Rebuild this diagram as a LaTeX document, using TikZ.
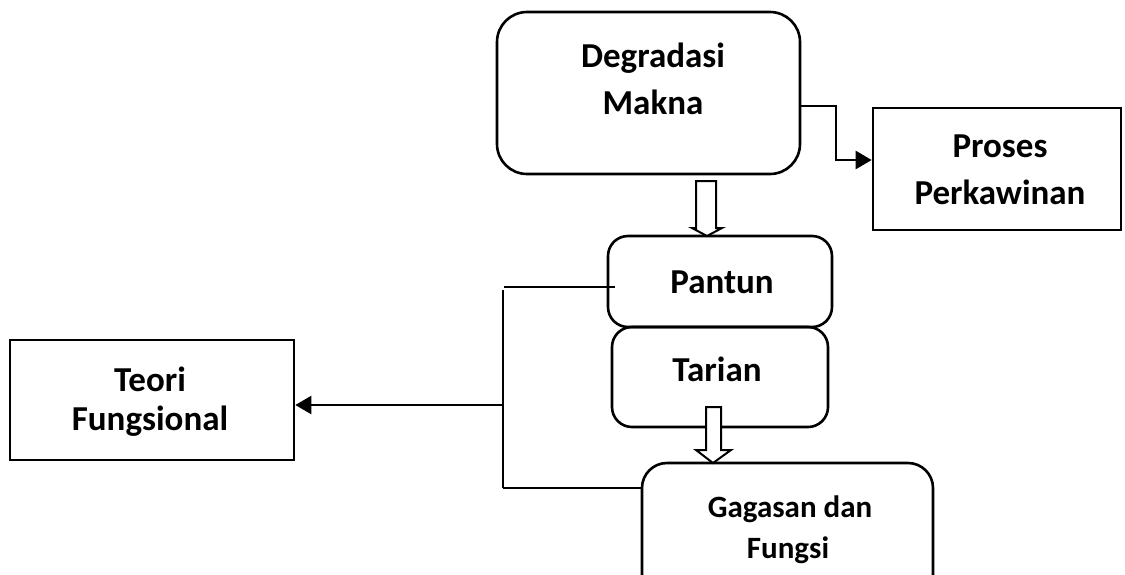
\documentclass[tikz,border=0pt]{standalone}
\usepackage{fontspec}
\setmainfont{Carlito}
\usetikzlibrary{arrows.meta}
\begin{document}
\begin{tikzpicture}[x=1pt,y=-1pt,
  line width=2.6pt,
  lbl/.style={font=\fontsize{35}{42}\selectfont\bfseries, inner sep=0pt, anchor=base},
  lbls/.style={font=\fontsize{31}{37}\selectfont\bfseries, inner sep=0pt, anchor=base},
  conn/.style={line width=2.3pt},
  tip/.style={-{Triangle[length=16pt,width=18pt]}},
  hollow/.style={line width=2pt, fill=white}]
\useasboundingbox (0,0) rectangle (1125,574);
\clip (0,0) rectangle (1125,574);
% boxes
\draw[rounded corners=30pt] (497,12) rectangle (800,174);
\coordinate (degE) at (800,106);
\node[draw, minimum width=248pt, minimum height=122pt, inner sep=0pt] (proses) at (997,169) {};
\draw[rounded corners=20pt] (608,236) rectangle (832,327);
\coordinate (pantunW) at (608,287);
\draw[rounded corners=20pt] (612,327) rectangle (828,427);
\draw[rounded corners=25pt] (642,463) rectangle (933,620);
\coordinate (gagW) at (642,488);
\node[draw, minimum width=284pt, minimum height=120pt, inner sep=0pt] (teori) at (152,400) {};
% texts
\node[lbl] (t1) at (653,67) {Degradasi};
\node[lbl] (t2) at (653,114) {Makna};
\node[lbl] (t3) at (1000,157) {Proses};
\node[lbl] (t4) at (1000,204) {Perkawinan};
\node[lbl] (t5) at (722,293) {Pantun};
\node[lbl] (t6) at (717,381) {Tarian};
\node[lbl] (t7) at (150,391) {Teori};
\node[lbl] (t8) at (150,430) {Fungsional};
\node[lbls] (t9) at (790,517) {Gagasan dan};
\node[lbls] (t10) at (788,558) {Fungsi};
% connectors
\coordinate (j1) at (836,106);
\coordinate (j2) at (836,160);
\draw[conn, tip] (degE) -- (j1) -- (j2) -- (proses.west |- j2);
\coordinate (bTop) at (504,287);
\coordinate (bMid) at (503,405);
\coordinate (bBot) at (503,488);
\draw[conn] (615,287) -- (bTop);
\draw[conn] (503,290) -- (bBot);
\draw[conn] (bBot) -- (gagW);
\draw[conn, tip] (bMid) -- (teori.east |- bMid);
% hollow arrows
\draw[hollow] (696,181) -- (716,181) -- (716,228) -- (722,228) -- (707,236) -- (692,228) -- (696,228) -- cycle;
\draw[hollow] (706,407) -- (721,407) -- (721,450) -- (731,450) -- (713,463) -- (696,450) -- (706,450) -- cycle;
\end{tikzpicture}
\end{document}
